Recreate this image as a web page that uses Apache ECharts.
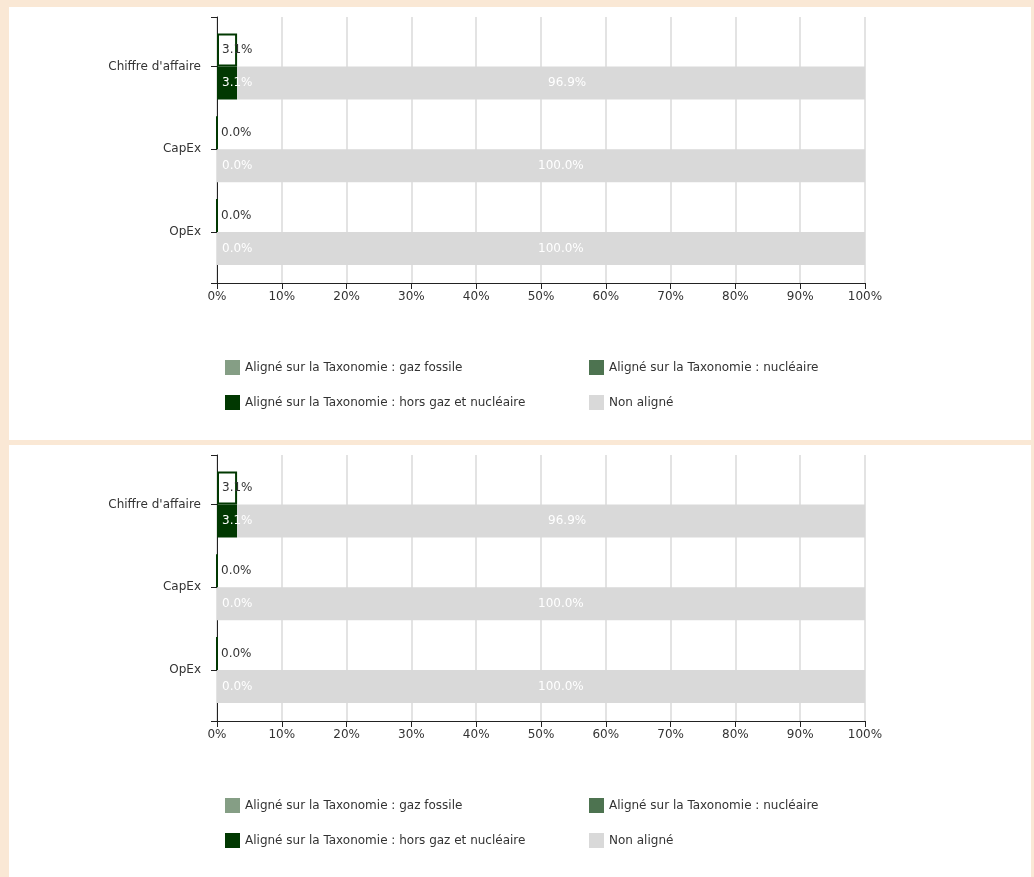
<!DOCTYPE html>
<html><head><meta charset="utf-8">
<script src="https://cdn.jsdelivr.net/npm/echarts@6/dist/echarts.min.js"></script>
<style>
html,body{margin:0;padding:0;background:#fae8d5;width:1034px;height:877px;overflow:hidden}
.panel{position:absolute;left:9px;width:1022px;background:#fff}
#p1{top:7px;height:433px}
#p2{top:445px;height:432px}
</style></head><body>
<div id="p1" class="panel"></div><div id="p2" class="panel"></div>
<script>
// ---- data ----
const categories = ["Chiffre d'affaire", "CapEx", "OpEx"];
const legendNames = [
  "Aligné sur la Taxonomie : gaz fossile",
  "Aligné sur la Taxonomie : nucléaire",
  "Aligné sur la Taxonomie : hors gaz et nucléaire",
  "Non aligné"
];
// panel 1
const p1TotalAligned = [3.1, 0.0, 0.0];
const p1GazFossile   = [0.0, 0.0, 0.0];
const p1Nucleaire    = [0.0, 0.0, 0.0];
const p1HorsGaz      = [3.1, 0.0, 0.0];
const p1NonAligne    = [96.9, 100.0, 100.0];
// panel 2
const p2TotalAligned = [3.1, 0.0, 0.0];
const p2GazFossile   = [0.0, 0.0, 0.0];
const p2Nucleaire    = [0.0, 0.0, 0.0];
const p2HorsGaz      = [3.1, 0.0, 0.0];
const p2NonAligne    = [96.9, 100.0, 100.0];
const xMin = 0, xMax = 100, xStep = 10;

// ---- styling ----
const FONT = "DejaVu Sans";
const COLORS = ["#859e85", "#4d7350", "#013801", "#d9d9d9"];
const AXIS = "#222";
const fmt = v => v.toFixed(1) + "%";

function buildOption(total, gaz, nuc, hors, non) {
  const gridLeft = 208, gridW = 648;
  const legendPos = [[216, 353], [580, 353], [216, 388], [580, 388]];
  return {
    animation: false,
    textStyle: { fontFamily: FONT },
    grid: [
      { left: gridLeft, width: gridW, top: 10, height: 266 },
      { left: gridLeft, width: gridW, top: 18.125, height: 248.25 }
    ],
    xAxis: [
      {
        gridIndex: 0, type: "value", min: xMin, max: xMax, interval: xStep, position: "bottom",
        axisLine: { show: true, onZero: false, lineStyle: { color: AXIS, width: 1 } },
        axisTick: { show: true, length: 6, lineStyle: { color: AXIS } },
        axisLabel: { color: "#333", fontSize: 12, fontFamily: FONT, margin: 8, formatter: "{value}%" },
        splitLine: { show: true, lineStyle: { color: "#e3e3e3", width: 2 } }
      },
      {
        gridIndex: 1, type: "value", min: xMin, max: xMax, show: false
      }
    ],
    yAxis: [
      {
        gridIndex: 0, type: "value", min: 0, max: 1, interval: 1,
        axisLine: { show: true, onZero: false, lineStyle: { color: AXIS, width: 1 } },
        axisTick: { show: true, length: 6, lineStyle: { color: AXIS } },
        axisLabel: { show: false },
        splitLine: { show: false }
      },
      {
        gridIndex: 1, type: "category", data: categories, inverse: true,
        axisLine: { show: false },
        axisTick: { show: true, length: 6, alignWithLabel: true, lineStyle: { color: AXIS } },
        axisLabel: { color: "#333", fontSize: 12, fontFamily: FONT, margin: 16 }
      }
    ],
    legend: legendNames.map((n, i) => ({
      data: [n], left: legendPos[i][0], top: legendPos[i][1], padding: 0,
      itemWidth: 15, itemHeight: 15, icon: "rect", selectedMode: false,
      textStyle: { color: "#333", fontSize: 12, fontFamily: FONT }
    })),
    series: [
      {
        name: "Total aligné", type: "bar", xAxisIndex: 1, yAxisIndex: 1,
        data: total, barWidth: 33, barGap: "0%",
        itemStyle: { color: "#fff", borderColor: COLORS[2], borderWidth: 2 },
        label: { show: true, position: "insideLeft", distance: 5, color: "#333", fontSize: 12, fontFamily: FONT,
                 formatter: p => fmt(p.value) }
      },
      {
        name: legendNames[0], type: "bar", stack: "s", xAxisIndex: 1, yAxisIndex: 1,
        data: gaz, barWidth: 33, barGap: "0%", itemStyle: { color: COLORS[0] }, label: { show: false }
      },
      {
        name: legendNames[1], type: "bar", stack: "s", xAxisIndex: 1, yAxisIndex: 1,
        data: nuc, barWidth: 33, barGap: "0%", itemStyle: { color: COLORS[1] }, label: { show: false }
      },
      {
        name: legendNames[2], type: "bar", stack: "s", xAxisIndex: 1, yAxisIndex: 1,
        data: hors, barWidth: 33, barGap: "0%", itemStyle: { color: COLORS[2] },
        label: { show: true, position: "insideLeft", distance: 5, color: "#fff", fontSize: 12, fontFamily: FONT,
                 formatter: p => fmt(p.value) }
      },
      {
        name: legendNames[3], type: "bar", stack: "s", xAxisIndex: 1, yAxisIndex: 1,
        data: non, barWidth: 33, barGap: "0%", itemStyle: { color: COLORS[3] },
        label: { show: true, position: "inside", align: "left", offset: [-3, 0], color: "#fff", fontSize: 12, fontFamily: FONT,
                 formatter: p => fmt(p.value) }
      }
    ]
  };
}

const c1 = echarts.init(document.getElementById("p1"));
c1.setOption(buildOption(p1TotalAligned, p1GazFossile, p1Nucleaire, p1HorsGaz, p1NonAligne));
const c2 = echarts.init(document.getElementById("p2"));
c2.setOption(buildOption(p2TotalAligned, p2GazFossile, p2Nucleaire, p2HorsGaz, p2NonAligne));
</script>
</body></html>
